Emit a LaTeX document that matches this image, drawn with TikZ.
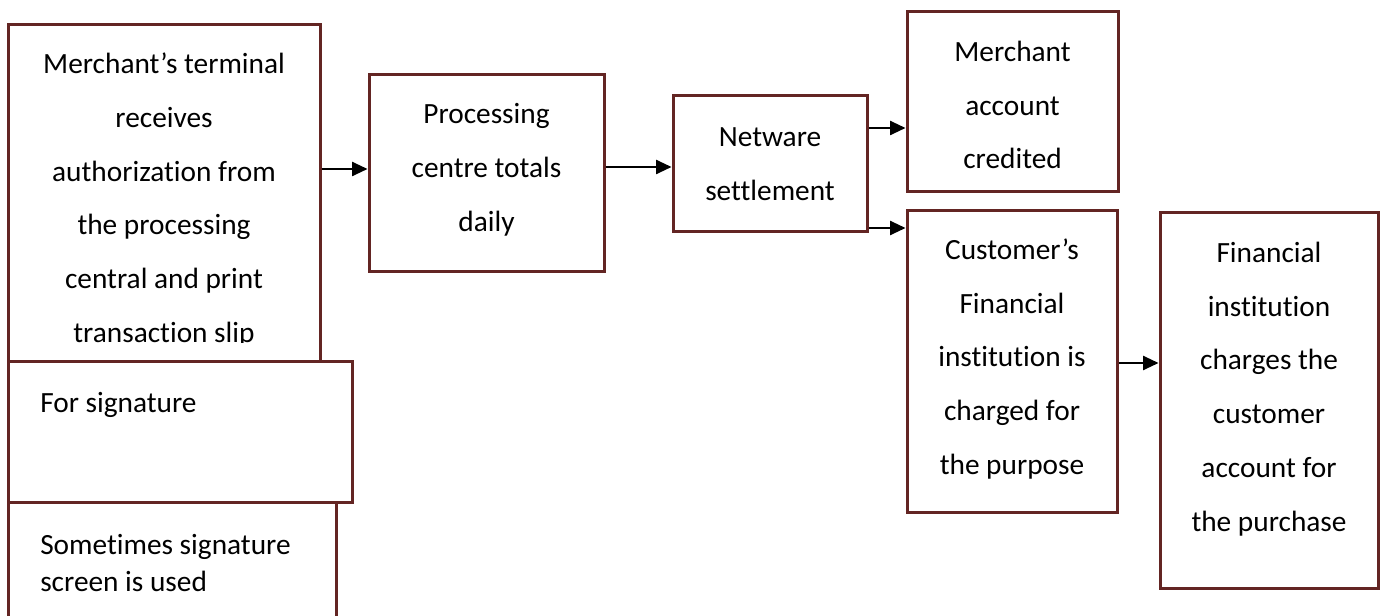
\documentclass[tikz,border=0pt]{standalone}
\usepackage{fontspec}
\setmainfont[Ligatures=NoCommon]{Carlito}
\usetikzlibrary{arrows.meta,fit}
\definecolor{boxred}{RGB}{99,37,35}
\begin{document}
\begin{tikzpicture}[x=0.75pt,y=-0.75pt,
  box/.style={draw=boxred, line width=2.25pt, inner sep=0pt, fill=white},
  txt/.style={align=center, inner sep=0pt, font=\fontsize{22}{40.3}\selectfont},
  ltxt/.style={align=left, inner sep=0pt, anchor=west, font=\fontsize{22}{27.75}\selectfont},
  arr/.style={line width=1.5pt, -{Triangle[length=11.5pt,width=10.5pt]}}]
\useasboundingbox (0,0) rectangle (1385,616);
\clip (0,0) rectangle (1385,616);

% left column: terminal, signature slip, signature screen
\node[box, fit={(8,25) (320,362)}] (A) {};
\begin{scope}
  \clip (8,25) rectangle (320,343);
  \node[txt] (tA) at (164,200) {Merchant’s terminal\\receives\\authorization from\\the processing\\central and print\\transaction slip};
\end{scope}
\node[box, fit={(8,362) (352,502)}] (B) {};
\node[ltxt] (tB) at (40,405) {For signature};
\node[box, fit={(8,502) (336,660)}] (C) {};
\node[ltxt] (tC) at (40,563) {Sometimes signature\\screen is used};

% processing and settlement
\node[box, fit={(369,75) (604,272)}] (P) {};
\node[txt] (tP) at (486.5,170) {Processing\\centre totals\\daily};
\node[box, fit={(673,96) (867,232)}] (N) {};
\node[txt] (tN) at (770,164) {Netware\\settlement};

% outcomes
\node[box, fit={(907,12) (1118,192)}] (M) {};
\node[txt] (tM) at (1012.5,105) {Merchant\\account\\credited};
\node[box, fit={(907,211) (1117,512)}] (CF) {};
\node[txt] (tCF) at (1012,359) {Customer’s\\Financial\\institution is\\charged for\\the purpose};
\node[box, fit={(1160,213) (1378,588)}] (F) {};
\node[txt] (tF) at (1269,389) {Financial\\institution\\charges the\\customer\\account for\\the purchase};

% flow arrows
\draw[arr] (A.east |- 0,169) -- (P.west |- 0,169);
\draw[arr] (P.east |- 0,167) -- (N.west |- 0,167);
\draw[arr] (N.east |- 0,128) -- (M.west |- 0,128);
\draw[arr] (N.east |- 0,228) -- (CF.west |- 0,228);
\draw[arr] (CF.east |- 0,363) -- (F.west |- 0,363);
\end{tikzpicture}
\end{document}
